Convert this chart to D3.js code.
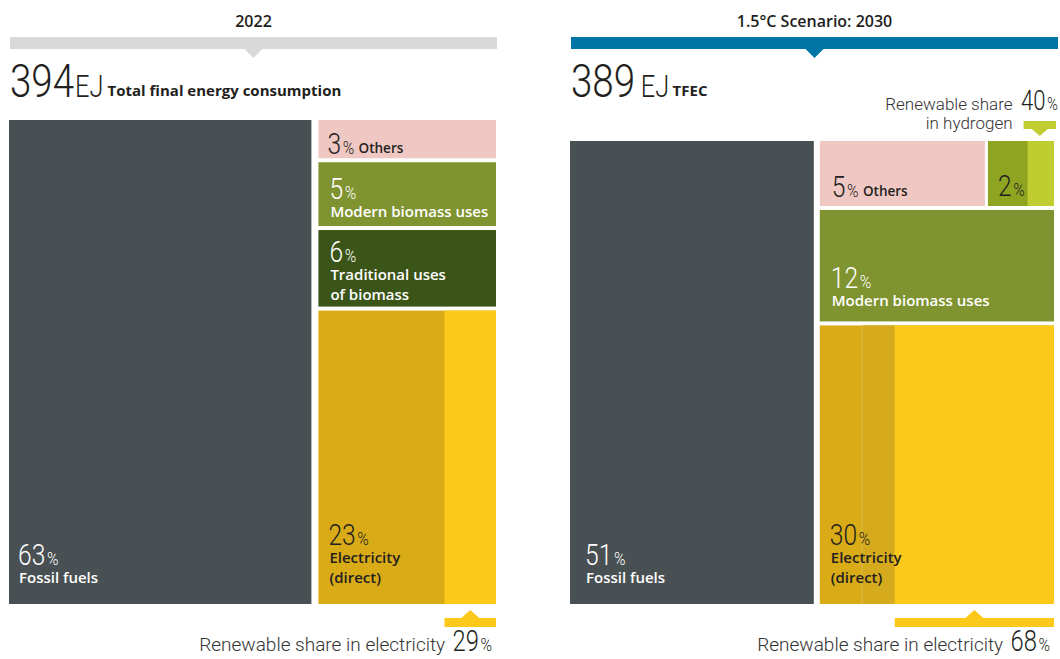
<!DOCTYPE html>
<html>
<head>
<meta charset="utf-8">
<script src="https://cdn.jsdelivr.net/npm/d3@7"></script>
<style>
  body { margin: 0; background: #fff; }
  svg { display: block; }
</style>
</head>
<body>
<svg id="chart" width="1060" height="659"></svg>
<script>
// ---- data -------------------------------------------------------------
const panelTitles = ["2022", "1.5°C Scenario: 2030"];
const totalsEJ = [394, 389];
const totalCaptions = ["Total final energy consumption", "TFEC"];
const fossilShares = [63, 51];

// right-hand column of the 2022 panel, top to bottom
const keys2022 = ["others", "modern", "traditional", "electricity"];
const labels2022 = [["Others"], ["Modern biomass uses"], ["Traditional uses", "of biomass"], ["Electricity", "(direct)"]];
const values2022 = [3, 5, 6, 23];

// right-hand column of the 2030 panel; first two share the top row
const keys2030 = ["others", "hydrogen", "modern", "electricity"];
const labels2030 = [["Others"], [], ["Modern biomass uses"], ["Electricity", "(direct)"]];
const values2030 = [5, 2, 12, 30];

const renewableElectricity = [29, 68];
const renewableHydrogen2030 = 40;
// tones across the 2030 electricity block (non-renewable split, renewable)
const electricityTones2030 = [18, 14, 68];

// ---- styling ----------------------------------------------------------
const colors = {
  fossil: "#495053",
  others: "#f0c8c3",
  modern: "#7f9430",
  traditional: "#3b5418",
  electricity: "#d9ab17",
  electricityAlt: "#d6aa1d",
  renewableElec: "#fcc81a",
  hydrogen: "#8fa522",
  renewableH2: "#bfcd31",
  bar2022: "#d9d9d9",
  bar2030: "#0075a6",
  ink: "#231f20"
};
const darkText = new Set(["others", "electricity", "hydrogen"]);

const NUM_FONT = "Roboto, 'Liberation Sans', sans-serif";
const LABEL_FONT = "'Open Sans', 'Liberation Sans', sans-serif";
const NARROW = 0.82;
const FOOT_Y = 651;

const svg = d3.select("#chart");

const panels = [
  { x0: 9, x1: 496, top: 120, bottom: 604, barX0: 10, barX1: 497, gap: 7, capGap: 5 },
  { x0: 570, x1: 1054, top: 141, bottom: 604, barX0: 571, barX1: 1058, gap: 6, capGap: 9 }
];
const VGAP = 4;

// big condensed number followed by a "%" sign
function bigNumber(g, x, y, num, size, pctSize, color, anchor) {
  const t = g.append("text")
    .attr("transform", `translate(${x},${y}) scale(${NARROW},1)`)
    .attr("text-anchor", anchor || "start")
    .attr("fill", color)
    .style("font-family", NUM_FONT)
    .style("font-weight", 300);
  t.append("tspan").style("font-size", size + "px").text(num);
  t.append("tspan").attr("dx", 2).style("font-size", pctSize + "px").text("%");
  return t;
}

function header(i) {
  const p = panels[i];
  const g = svg.append("g");
  const cx = (p.barX0 + p.barX1) / 2;
  const barColor = i === 0 ? colors.bar2022 : colors.bar2030;
  g.append("text")
    .attr("x", cx).attr("y", 27)
    .attr("text-anchor", "middle")
    .attr("fill", colors.ink)
    .style("font-family", LABEL_FONT)
    .style("font-weight", 600)
    .style("font-size", "16px")
    .text(panelTitles[i]);
  g.append("rect")
    .attr("x", p.barX0).attr("y", 37)
    .attr("width", p.barX1 - p.barX0).attr("height", 12)
    .attr("fill", barColor);
  g.append("path")
    .attr("d", `M${cx - 9},49 L${cx + 9},49 L${cx},58 Z`)
    .attr("fill", barColor);

  const total = g.append("text")
    .attr("transform", `translate(${p.barX0},97) scale(${NARROW},1)`)
    .attr("fill", colors.ink)
    .style("font-family", NUM_FONT)
    .style("font-weight", 300);
  total.append("tspan").style("font-size", "47px").text(totalsEJ[i]);
  total.append("tspan").attr("dx", i === 0 ? 1 : 7).style("font-size", "31px").text("EJ");
  const w = total.node().getComputedTextLength() * NARROW;
  g.append("text")
    .attr("x", p.barX0 + w + p.capGap).attr("y", 96)
    .attr("fill", colors.ink)
    .style("font-family", LABEL_FONT)
    .style("font-weight", 700)
    .style("font-size", "15px")
    .text(totalCaptions[i]);
}

function labelBlock(g, x, bottom, num, lines, color, numOffset) {
  // lines stack upward from the box bottom
  const lineGap = 20;
  lines.forEach((ln, k) => {
    g.append("text")
      .attr("x", x)
      .attr("y", bottom - (lines.length - 1 - k) * lineGap)
      .attr("fill", color)
      .style("font-family", LABEL_FONT)
      .style("font-weight", 600)
      .style("font-size", "15px")
      .text(ln);
  });
  const numY = bottom - (lines.length - 1) * lineGap - numOffset;
  bigNumber(g, x - 1, numY, num, 30, 19, color);
}

function inlineLabel(g, x, y, num, word, color) {
  const t = bigNumber(g, x, y, num, 30, 19, color);
  const w = t.node().getComputedTextLength() * NARROW;
  if (word) {
    g.append("text")
      .attr("x", x + w + 6).attr("y", y - 1)
      .attr("fill", color)
      .style("font-family", LABEL_FONT)
      .style("font-weight", 600)
      .style("font-size", "13.5px")
      .text(word);
  }
}

// renewable-share marker under an electricity block
function bottomMarker(g, xa, xb, share, x1) {
  const cx = (xa + xb) / 2;
  g.append("rect").attr("x", xa).attr("y", 618).attr("width", xb - xa).attr("height", 9)
    .attr("fill", colors.renewableElec);
  g.append("path").attr("d", `M${cx - 9},618 L${cx + 9},618 L${cx},610 Z`)
    .attr("fill", colors.renewableElec);
  const n = bigNumber(g, x1 - 4, FOOT_Y, share, 29, 19, colors.ink, "end");
  const nw = n.node().getComputedTextLength() * NARROW;
  g.append("text")
    .attr("x", x1 - 4 - nw - 9).attr("y", FOOT_Y)
    .attr("text-anchor", "end")
    .attr("fill", "#333")
    .style("font-family", NUM_FONT)
    .style("font-weight", 300)
    .style("font-size", "19px")
    .text("Renewable share in electricity");
}

function panel(i) {
  const p = panels[i];
  const g = svg.append("g");
  const x = d3.scaleLinear().domain([0, 100]).range([p.x0, p.x1 - p.gap]);
  const fossilX1 = x(fossilShares[i]);
  const cx0 = fossilX1 + p.gap, cx1 = p.x1;

  // fossil fuels block
  g.append("rect")
    .attr("x", p.x0).attr("y", p.top)
    .attr("width", fossilX1 - p.x0).attr("height", p.bottom - p.top)
    .attr("fill", colors.fossil);
  labelBlock(g, p.x0 + (i === 0 ? 10 : 16), p.bottom - 21, fossilShares[i], ["Fossil fuels"], "#fff", 18);

  // rows of the right-hand column
  const keys = i === 0 ? keys2022 : keys2030;
  const vals = i === 0 ? values2022 : values2030;
  const labs = i === 0 ? labels2022 : labels2030;
  let rows;
  if (i === 0) rows = keys.map((k, j) => [j]);
  else rows = [[0, 1], [2], [3]];
  const rowTotals = rows.map(r => d3.sum(r, j => vals[j]));
  const colTotal = d3.sum(rowTotals);
  const y = d3.scaleLinear().domain([0, colTotal])
    .range([p.top, p.bottom - VGAP * (rows.length - 1)]);

  let cum = 0;
  rows.forEach((r, ri) => {
    const ry0 = y(cum) + ri * VGAP;
    const ry1 = y(cum + rowTotals[ri]) + ri * VGAP;
    cum += rowTotals[ri];
    const rx = d3.scaleLinear().domain([0, rowTotals[ri]])
      .range([cx0, cx1 - (r.length - 1) * 3]);
    let c = 0;
    r.forEach((j, jj) => {
      const bx0 = rx(c) + jj * 3;
      const bx1 = rx(c + vals[j]) + jj * 3;
      c += vals[j];
      const key = keys[j];
      const color = darkText.has(key) ? colors.ink : "#fff";
      g.append("rect").attr("x", bx0).attr("y", ry0)
        .attr("width", bx1 - bx0).attr("height", ry1 - ry0)
        .attr("fill", colors[key]);

      if (key === "electricity") {
        const e = d3.scaleLinear().domain([0, 100]).range([bx0, bx1]);
        const share = renewableElectricity[i];
        if (i === 1) {
          const t0 = electricityTones2030[0];
          g.append("rect").attr("x", e(t0)).attr("y", ry0)
            .attr("width", e(100 - share) - e(t0)).attr("height", ry1 - ry0)
            .attr("fill", colors.electricityAlt);
          g.append("line").attr("x1", e(t0)).attr("x2", e(t0))
            .attr("y1", ry0).attr("y2", ry1)
            .attr("stroke", "#e2bc47").attr("stroke-width", 1);
        }
        g.append("rect").attr("x", e(100 - share)).attr("y", ry0)
          .attr("width", bx1 - e(100 - share)).attr("height", ry1 - ry0)
          .attr("fill", colors.renewableElec);
        labelBlock(g, bx0 + 11, ry1 - 21, vals[j], labs[j], color, 18);
        bottomMarker(g, e(100 - share), bx1, share, p.x1);
      } else if (key === "hydrogen") {
        const h = d3.scaleLinear().domain([0, 100]).range([bx0, bx1]);
        const hx = h(100 - renewableHydrogen2030);
        g.append("rect").attr("x", hx).attr("y", ry0)
          .attr("width", bx1 - hx).attr("height", ry1 - ry0)
          .attr("fill", colors.renewableH2);
        inlineLabel(g, bx0 + 10, ry1 - 10, vals[j], null, color);
        // renewable hydrogen marker above the block
        const mx0 = hx - 4, mx1 = bx1 + 2, mcx = (mx0 + mx1) / 2;
        g.append("rect").attr("x", mx0).attr("y", 121).attr("width", mx1 - mx0).attr("height", 8)
          .attr("fill", colors.renewableH2);
        g.append("path").attr("d", `M${mcx - 8},129 L${mcx + 8},129 L${mcx},136 Z`)
          .attr("fill", colors.renewableH2);
        const n = bigNumber(g, p.x1 + 4, 110, renewableHydrogen2030, 27, 18, colors.ink, "end");
        const nw = n.node().getComputedTextLength() * NARROW;
        ["Renewable share", "in hydrogen"].forEach((s, k) => {
          g.append("text")
            .attr("x", p.x1 + 4 - nw - 10).attr("y", 110 + k * 19)
            .attr("text-anchor", "end")
            .attr("fill", "#333")
            .style("font-family", NUM_FONT)
            .style("font-weight", 300)
            .style("font-size", "17px")
            .text(s);
        });
      } else if (key === "others") {
        inlineLabel(g, bx0 + (i === 0 ? 9 : 12), ry1 - (i === 0 ? 4 : 9), vals[j], labs[j][0], color);
      } else {
        const off = key === "traditional" ? 7 : (i === 0 ? 9 : 15);
        labelBlock(g, bx0 + 12, ry1 - off, vals[j], labs[j], color, 18);
      }
    });
  });
}

[0, 1].forEach(i => { header(i); panel(i); });
</script>
</body>
</html>
